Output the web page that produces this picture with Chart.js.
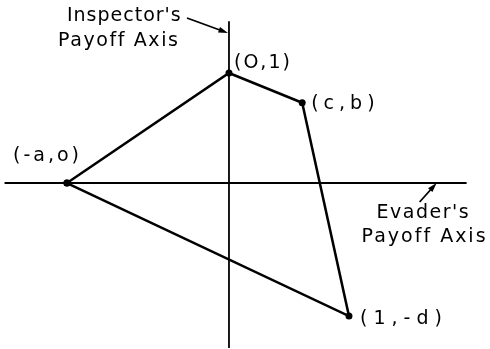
<!DOCTYPE html>
<html>
<head>
<meta charset="utf-8">
<script src="https://cdn.jsdelivr.net/npm/chart.js@4"></script>
<style>
  html, body { margin: 0; padding: 0; background: #fff; }
  canvas { display: block; }
</style>
</head>
<body>
<canvas id="c" width="490" height="349"></canvas>
<script>
/* vertices of the payoff polygon (evader x, inspector y) */
var pointLabels = ['(-a,o)', '(O,1)', '(c,b)', '(1,-d)'];
var polyX = [-1.35, 0, 0.61, 1.0];
var polyY = [0, 1, 0.73, -1.21];

/* the two payoff axes */
var hAxisX = [-1.87, 1.98];
var vAxisY = [-1.5, 1.47];

var axisTitles = [['Inspector\'s', 'Payoff Axis'], ['Evader\'s', 'Payoff Axis']];

var polygon = polyX.map(function(x, i) { return { x: x, y: polyY[i] }; });
polygon.push(polygon[0]);

var FONT = '19px "DejaVu Sans", sans-serif';

/* labels + arrows drawn on top, positioned off the scales */
var labelPlugin = {
  id: 'labels',
  afterDatasetsDraw: function(chart) {
    var ctx = chart.ctx;
    var xs = chart.scales.x, ys = chart.scales.y;
    ctx.save();
    ctx.fillStyle = '#000';
    ctx.strokeStyle = '#000';
    ctx.font = FONT;
    ctx.textBaseline = 'middle';
    ctx.textAlign = 'left';

    /* vertex labels: dx, dy, letter spacing */
    var offs = [[-54, -27, 3], [5, -10, 2], [9, 1, 5], [11, 3, 6]];
    polyX.forEach(function(x, i) {
      var px = xs.getPixelForValue(x), py = ys.getPixelForValue(polyY[i]);
      ctx.letterSpacing = offs[i][2] + 'px';
      ctx.fillText(pointLabels[i], px + offs[i][0], py + offs[i][1]);
    });

    var ox = xs.getPixelForValue(0), oy = ys.getPixelForValue(0);

    /* inspector axis title */
    ctx.letterSpacing = '1px';
    ctx.fillText(axisTitles[0][0], ox - 162, 16);
    ctx.letterSpacing = '1.6px';
    ctx.fillText(axisTitles[0][1], ox - 171, 41);
    arrow(ctx, ox - 42, 18, ox - 1, 33);

    /* evader axis title */
    var ex = xs.getPixelForValue(hAxisX[1]);
    ctx.letterSpacing = '1.5px';
    ctx.fillText(axisTitles[1][0], ex - 90, oy + 30);
    ctx.letterSpacing = '2px';
    ctx.fillText(axisTitles[1][1], ex - 105, oy + 54);
    arrow(ctx, ex - 47, oy + 19, ex - 30, oy);
    ctx.restore();
  }
};

function arrow(ctx, x1, y1, x2, y2) {
  var ang = Math.atan2(y2 - y1, x2 - x1), L = 10, W = 0.3;
  ctx.lineWidth = 1.8;
  ctx.beginPath();
  ctx.moveTo(x1, y1);
  ctx.lineTo(x2 - Math.cos(ang) * L * 0.8, y2 - Math.sin(ang) * L * 0.8);
  ctx.stroke();
  ctx.beginPath();
  ctx.moveTo(x2, y2);
  ctx.lineTo(x2 - L * Math.cos(ang - W), y2 - L * Math.sin(ang - W));
  ctx.lineTo(x2 - L * Math.cos(ang + W), y2 - L * Math.sin(ang + W));
  ctx.closePath();
  ctx.fill();
}

new Chart(document.getElementById('c'), {
  type: 'scatter',
  data: {
    datasets: [
      {
        data: [{ x: hAxisX[0], y: 0 }, { x: hAxisX[1], y: 0 }],
        showLine: true, borderColor: '#000', borderWidth: 1.8, pointRadius: 0
      },
      {
        data: [{ x: 0, y: vAxisY[0] }, { x: 0, y: vAxisY[1] }],
        showLine: true, borderColor: '#000', borderWidth: 1.8, pointRadius: 0
      },
      {
        data: polygon,
        showLine: true, borderColor: '#000', borderWidth: 2.5,
        pointRadius: 3.5, pointBackgroundColor: '#000', pointBorderWidth: 0
      }
    ]
  },
  options: {
    responsive: false,
    animation: false,
    layout: { padding: 0, autoPadding: false },
    plugins: { legend: { display: false }, tooltip: { enabled: false } },
    scales: {
      x: { type: 'linear', min: -1.908, max: 2.175, display: false },
      y: { type: 'linear', min: -1.509, max: 1.664, display: false }
    }
  },
  plugins: [labelPlugin]
});
</script>
</body>
</html>
